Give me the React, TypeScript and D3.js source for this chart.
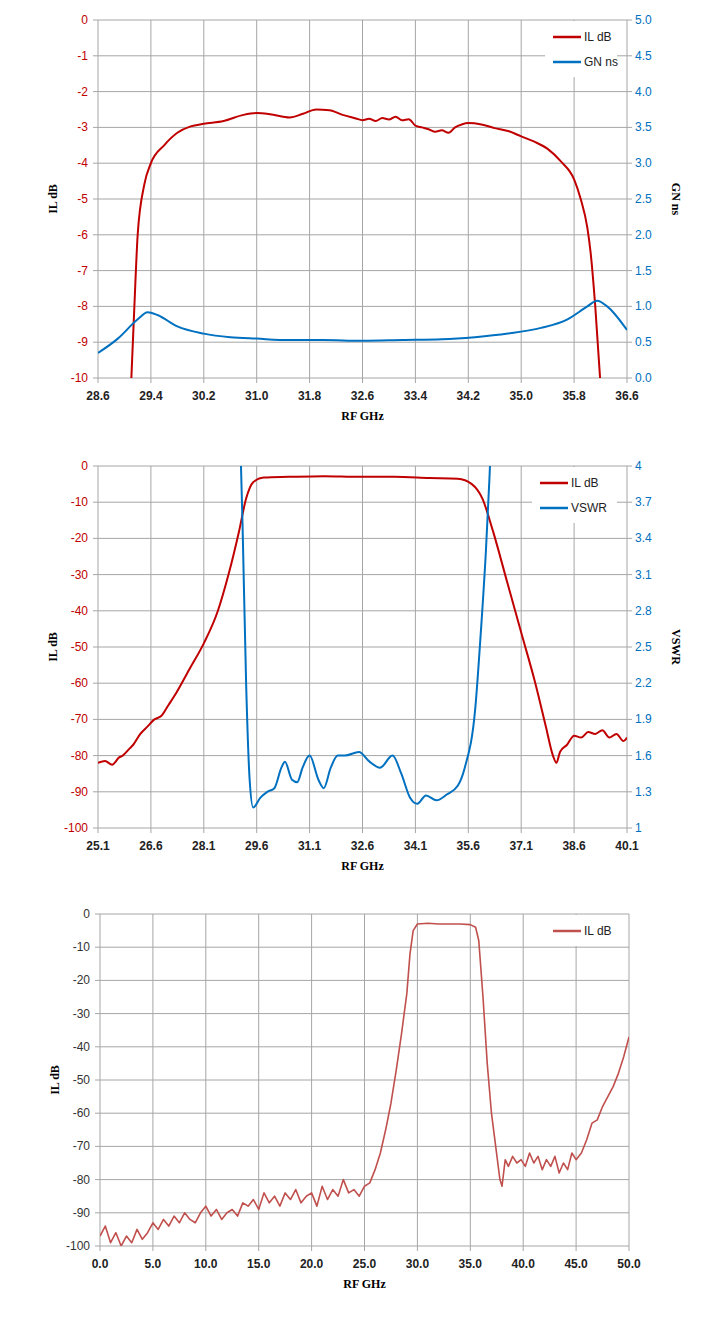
import React, { useEffect, useRef } from "react";
import * as d3 from "d3";

// chart 1: passband detail
const c1Freq = [29.1, 29.15, 29.2, 29.3, 29.4, 29.6, 29.8, 30.0, 30.2, 30.5, 30.8, 31.0, 31.2, 31.5, 31.7, 31.9, 32.1, 32.3, 32.5, 32.6, 32.7, 32.8, 32.9, 33.0, 33.1, 33.2, 33.3, 33.4, 33.5, 33.6, 33.7, 33.8, 33.9, 34.0, 34.1, 34.2, 34.4, 34.6, 34.8, 35.0, 35.2, 35.4, 35.6, 35.8, 35.9, 36.0, 36.05, 36.12, 36.2];
const c1IL = [-10.2, -8.0, -6.0, -4.6, -4.0, -3.5, -3.15, -2.97, -2.9, -2.82, -2.65, -2.6, -2.63, -2.72, -2.62, -2.5, -2.52, -2.65, -2.75, -2.8, -2.76, -2.82, -2.74, -2.78, -2.7, -2.8, -2.77, -2.95, -3.0, -3.05, -3.12, -3.08, -3.15, -3.0, -2.92, -2.88, -2.92, -3.02, -3.1, -3.25, -3.4, -3.6, -3.95, -4.45, -5.0, -5.8, -6.5, -8.0, -10.2];
const c1GFreq = [28.6, 28.9, 29.2, 29.35, 29.5, 29.8, 30.2, 30.6, 31.0, 31.5, 32.0, 32.6, 33.2, 33.8, 34.3, 34.8, 35.3, 35.7, 36.0, 36.15, 36.3, 36.6];
const c1GN = [0.35, 0.55, 0.82, 0.92, 0.88, 0.72, 0.62, 0.57, 0.55, 0.53, 0.53, 0.52, 0.53, 0.54, 0.57, 0.62, 0.7, 0.82, 1.0, 1.08, 1.0, 0.67];
const c1XTicks = ["28.6", "29.4", "30.2", "31.0", "31.8", "32.6", "33.4", "34.2", "35.0", "35.8", "36.6"];

// chart 2: wideband with VSWR
const c2Freq = [25.1, 25.3, 25.5, 25.7, 25.8, 26.0, 26.1, 26.3, 26.5, 26.7, 26.9, 27.1, 27.3, 27.7, 28.1, 28.5, 28.8, 29.1, 29.3, 29.5, 29.8, 30.5, 31.5, 32.5, 33.5, 34.5, 35.3, 35.7, 36.0, 36.3, 36.7, 37.1, 37.5, 37.8, 38.0, 38.1, 38.2, 38.4, 38.6, 38.8, 39.0, 39.2, 39.4, 39.6, 39.8, 40.0, 40.1];
const c2IL = [-82, -81.5, -82.5, -80.5, -80, -78, -77, -74, -72, -70, -69, -66, -63, -56, -49, -40, -30, -18, -9, -4.5, -3.2, -3, -2.8, -3, -3, -3.3, -3.5, -5, -9, -18, -32, -46, -60, -72, -80, -82, -79, -77, -74.5, -75, -73.5, -74, -73, -75, -74, -76, -75];
const c2VFreq = [29.1, 29.2, 29.3, 29.4, 29.5, 29.7, 29.9, 30.1, 30.3, 30.4, 30.6, 30.75, 30.9, 31.1, 31.35, 31.5, 31.7, 31.9, 32.1, 32.5, 32.8, 33.1, 33.45, 33.7, 33.95, 34.15, 34.4, 34.7, 35.0, 35.3, 35.5, 35.8, 35.95, 36.1, 36.2, 36.3];
const c2VSWR = [4.6, 3.5, 2.2, 1.4, 1.17, 1.25, 1.3, 1.33, 1.5, 1.55, 1.4, 1.38, 1.5, 1.6, 1.4, 1.33, 1.5, 1.6, 1.6, 1.63, 1.55, 1.5, 1.6, 1.45, 1.25, 1.2, 1.27, 1.23, 1.28, 1.35, 1.5, 2.0, 2.6, 3.3, 3.9, 4.6];
const c2XTicks = ["25.1", "26.6", "28.1", "29.6", "31.1", "32.6", "34.1", "35.6", "37.1", "38.6", "40.1"];

// chart 3: 0-50 GHz sweep
const c3Freq = [0, 0.5, 1, 1.5, 2, 2.5, 3, 3.5, 4, 4.5, 5, 5.5, 6, 6.5, 7, 7.5, 8, 8.5, 9, 9.5, 10, 10.5, 11, 11.5, 12, 12.5, 13, 13.5, 14, 14.5, 15, 15.5, 16, 16.5, 17, 17.5, 18, 18.5, 19, 19.5, 20, 20.5, 21, 21.5, 22, 22.5, 23, 23.5, 24, 24.5, 25, 25.5, 26, 26.5, 27, 27.5, 28, 28.5, 29, 29.3, 29.6, 30, 31, 32, 33, 34, 35, 35.5, 35.8, 36.2, 36.6, 37, 37.4, 37.8, 38, 38.3, 38.6, 39, 39.4, 39.8, 40.2, 40.6, 41, 41.4, 41.8, 42.2, 42.6, 43, 43.4, 43.8, 44.2, 44.6, 45, 45.5, 46, 46.5, 47, 47.5, 48, 48.5, 49, 49.5, 50];
const c3IL = [-97, -94, -99, -96, -100, -97, -99, -95, -98, -96, -93, -95, -92, -94, -91, -93, -90, -92, -93, -90, -88, -91, -89, -92, -90, -89, -91, -87, -88, -86, -89, -84, -87, -85, -88, -84, -86, -83, -87, -85, -84, -88, -82, -86, -83, -85, -80, -84, -83, -85, -82, -81, -77, -72, -65, -57, -47, -36, -24, -12, -5, -3, -2.8, -3, -3, -3, -3.2, -4, -8, -25, -45, -60, -70, -80, -82, -74, -76, -73, -75, -74, -76, -72, -75, -73, -77, -74, -76, -73, -78, -75, -77, -72, -74, -72, -68, -63, -62, -58, -55, -52, -48, -43, -37];
const c3XTicks = ["0.0", "5.0", "10.0", "15.0", "20.0", "25.0", "30.0", "35.0", "40.0", "45.0", "50.0"];

const RED = "#c00000";
const BLUE = "#0070c0";
const RED3 = "#c0504d";
const GRID = "#a6a6a6";
const TICKFONT = "Liberation Sans";

type Series = { x: number[]; y: number[]; color: string; axis: "left" | "right"; name: string; smooth: boolean };

interface ChartProps {
  top: number; left: number; right: number; bottom: number;
  xDomain: [number, number]; xTicks: string[];
  yLeft: [number, number]; yLeftStep: number; yLeftColor: string;
  yRight?: [number, number]; yRightStep?: number; yRightFmt?: (v: number) => string; yRightLabel?: string;
  series: Series[];
  legendX: number;
  legendW: number;
}

function drawChart(svg: d3.Selection<SVGSVGElement, unknown, null, undefined>, p: ChartProps) {
  const g = svg.append("g");
  const x = d3.scaleLinear().domain(p.xDomain).range([p.left, p.right]);
  const yl = d3.scaleLinear().domain(p.yLeft).range([p.bottom, p.top]);
  const yr = p.yRight ? d3.scaleLinear().domain(p.yRight).range([p.bottom, p.top]) : yl;
  const xVals = p.xTicks.map(Number);
  const ylVals = d3.range(p.yLeft[0], p.yLeft[1] + 1e-9, p.yLeftStep);

  // grid
  g.selectAll(".vg").data(xVals).join("line")
    .attr("x1", d => x(d)).attr("x2", d => x(d)).attr("y1", p.top).attr("y2", p.bottom)
    .attr("stroke", GRID).attr("stroke-width", 1);
  g.selectAll(".hg").data(ylVals).join("line")
    .attr("x1", p.left).attr("x2", p.right).attr("y1", d => yl(d)).attr("y2", d => yl(d))
    .attr("stroke", GRID).attr("stroke-width", 1);

  // tick marks
  g.selectAll(".xt").data(xVals).join("line")
    .attr("x1", d => x(d)).attr("x2", d => x(d)).attr("y1", p.bottom).attr("y2", p.bottom + 5).attr("stroke", GRID);
  g.selectAll(".ylt").data(ylVals).join("line")
    .attr("x1", p.left - 5).attr("x2", p.left).attr("y1", d => yl(d)).attr("y2", d => yl(d)).attr("stroke", GRID);

  // legend background (drawn under lines, over grid)
  const lg = g.append("g").attr("transform", `translate(${p.legendX},${p.top})`);
  lg.append("rect").attr("x", -8).attr("y", 1).attr("width", p.legendW)
    .attr("height", p.series.length * 25 + 6).attr("fill", "white");

  // lines
  const clipId = `clip-${p.top}`;
  svg.append("clipPath").attr("id", clipId).append("rect")
    .attr("x", p.left).attr("y", p.top).attr("width", p.right - p.left).attr("height", p.bottom - p.top);
  p.series.forEach(s => {
    const ys = s.axis === "left" ? yl : yr;
    const line = d3.line<number>().x((_, i) => x(s.x[i])).y(d => ys(d))
      .curve(s.smooth ? d3.curveMonotoneX : d3.curveLinear);
    g.append("path").datum(s.y).attr("d", line).attr("fill", "none")
      .attr("stroke", s.color).attr("stroke-width", s.smooth ? 2 : 1.6).attr("stroke-linejoin", "round")
      .attr("clip-path", `url(#${clipId})`);
  });

  // left axis labels
  g.selectAll(".yl").data(ylVals).join("text")
    .attr("x", p.left - 10).attr("y", d => yl(d) + 4).attr("text-anchor", "end")
    .attr("font-family", TICKFONT).attr("font-size", 12).attr("fill", p.yLeftColor)
    .text(d => String(Math.round(d)));

  if (p.yRight && p.yRightStep && p.yRightFmt) {
    const yrVals = d3.range(p.yRight[0], p.yRight[1] + 1e-9, p.yRightStep);
    g.selectAll(".yrt").data(yrVals).join("line")
      .attr("x1", p.right).attr("x2", p.right + 5).attr("y1", d => yr(d)).attr("y2", d => yr(d)).attr("stroke", GRID);
    g.selectAll(".yr").data(yrVals).join("text")
      .attr("x", p.right + 8).attr("y", d => yr(d) + 4)
      .attr("font-family", TICKFONT).attr("font-size", 12).attr("fill", BLUE)
      .text(d => p.yRightFmt!(d));
    g.append("text").attr("transform", `translate(${p.right + 45},${(p.top + p.bottom) / 2}) rotate(90)`)
      .attr("text-anchor", "middle").attr("font-family", "Liberation Serif").attr("font-weight", "bold")
      .attr("font-size", 12).text(p.yRightLabel ?? "");
  }

  // x labels
  g.selectAll(".xl").data(p.xTicks).join("text")
    .attr("x", d => x(Number(d))).attr("y", p.bottom + 22).attr("text-anchor", "middle")
    .attr("font-family", TICKFONT).attr("font-size", 12).attr("font-weight", "bold").attr("fill", "#222")
    .text(d => d);
  g.append("text").attr("x", (p.left + p.right) / 2).attr("y", p.bottom + 42).attr("text-anchor", "middle")
    .attr("font-family", "Liberation Serif").attr("font-weight", "bold").attr("font-size", 12).text("RF GHz");
  g.append("text").attr("transform", `translate(${p.left - 41},${(p.top + p.bottom) / 2}) rotate(-90)`)
    .attr("text-anchor", "middle").attr("font-family", "Liberation Serif").attr("font-weight", "bold")
    .attr("font-size", 12).text("IL dB");

  // legend entries
  p.series.forEach((s, i) => {
    const yy = 17 + i * 25;
    lg.append("line").attr("x1", 0).attr("x2", 28).attr("y1", yy).attr("y2", yy)
      .attr("stroke", s.color).attr("stroke-width", 2.5);
    lg.append("text").attr("x", 31).attr("y", yy + 4).attr("font-family", TICKFONT)
      .attr("font-size", 12).attr("fill", "#222").text(s.name);
  });
}

export default function App() {
  const ref = useRef<SVGSVGElement | null>(null);
  useEffect(() => {
    if (!ref.current) return;
    const svg = d3.select(ref.current);
    svg.selectAll("*").remove();
    drawChart(svg, {
      top: 20, left: 98, right: 627, bottom: 378, xDomain: [28.6, 36.6], xTicks: c1XTicks,
      yLeft: [-10, 0], yLeftStep: 1, yLeftColor: RED,
      yRight: [0, 5], yRightStep: 0.5, yRightFmt: v => v.toFixed(1), yRightLabel: "GN ns",
      series: [
        { x: c1Freq, y: c1IL, color: RED, axis: "left", name: "IL dB", smooth: true },
        { x: c1GFreq, y: c1GN, color: BLUE, axis: "right", name: "GN ns", smooth: true },
      ],
      legendX: 553, legendW: 72,
    });
    drawChart(svg, {
      top: 466, left: 98, right: 627, bottom: 828, xDomain: [25.1, 40.1], xTicks: c2XTicks,
      yLeft: [-100, 0], yLeftStep: 10, yLeftColor: RED,
      yRight: [1, 4], yRightStep: 0.3, yRightFmt: v => String(+v.toFixed(1)), yRightLabel: "VSWR",
      series: [
        { x: c2Freq, y: c2IL, color: RED, axis: "left", name: "IL dB", smooth: true },
        { x: c2VFreq, y: c2VSWR, color: BLUE, axis: "right", name: "VSWR", smooth: true },
      ],
      legendX: 540, legendW: 85,
    });
    drawChart(svg, {
      top: 914, left: 100, right: 629, bottom: 1246, xDomain: [0, 50], xTicks: c3XTicks,
      yLeft: [-100, 0], yLeftStep: 10, yLeftColor: "#333",
      series: [{ x: c3Freq, y: c3IL, color: RED3, axis: "left", name: "IL dB", smooth: false }],
      legendX: 553, legendW: 80,
    });
  }, []);
  return (
    <svg ref={ref} width={718} height={1332}
      style={{ display: "block", position: "absolute", left: 0, top: 0 }} />
  );
}
